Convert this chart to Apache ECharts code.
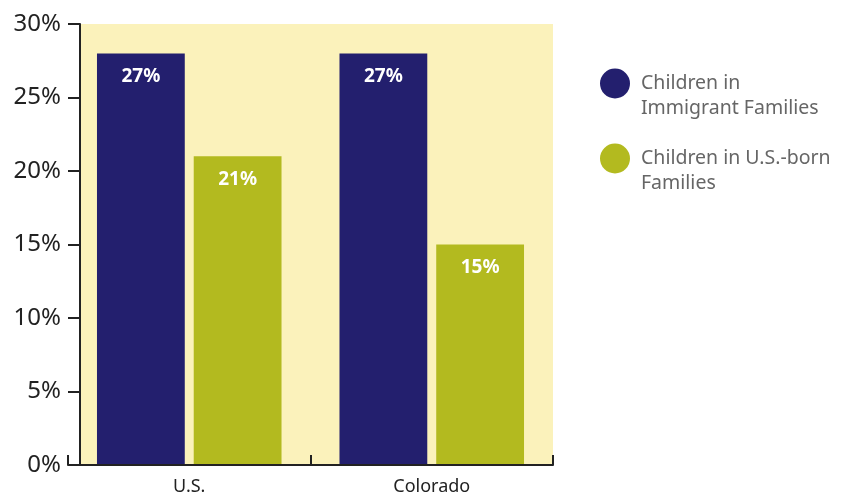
<!DOCTYPE html>
<html>
<head>
<meta charset="utf-8">
<script src="https://cdn.jsdelivr.net/npm/echarts@6/dist/echarts.min.js"></script>
<style>
html,body{margin:0;padding:0;background:#fff;}
#c{width:861px;height:496px;}
</style>
</head>
<body>
<div id="c"></div>
<script>
const categories = ["U.S.", "Colorado"];
const seriesNames = ["Children in\nImmigrant Families", "Children in U.S.-born\nFamilies"];
const immigrantValues = [28, 28];
const immigrantLabels = ["27%", "27%"];
const usBornValues = [21, 15];
const usBornLabels = ["21%", "15%"];
const yTicks = [0, 5, 10, 15, 20, 25, 30];

const FONT = "'Noto Sans', sans-serif";
const chart = echarts.init(document.getElementById('c'), null, {renderer: 'canvas'});

const labelStyle = (labels) => ({
  show: true,
  position: 'insideTop',
  distance: 14,
  color: '#ffffff',
  fontSize: 19,
  fontWeight: 'bold',
  fontFamily: FONT,
  formatter: (p) => labels[p.dataIndex]
});

chart.setOption({
  animation: false,
  grid: {
    left: 68, right: 308, top: 24, bottom: 30,
    show: true, backgroundColor: '#FBF2BB', borderWidth: 0
  },
  graphic: [{
    type: 'rect',
    left: 67, top: 20,
    shape: {width: 12, height: 446},
    style: {fill: '#ffffff'},
    z: 1
  }],
  legend: {
    orient: 'vertical',
    left: 600, top: 46,
    padding: 0,
    itemWidth: 30, itemHeight: 30,
    itemGap: 0,
    icon: 'circle',
    data: seriesNames,
    formatter: (name) => '\n' + name,
    textStyle: {
      fontSize: 19.5, color: '#666666', fontFamily: FONT,
      lineHeight: 25, padding: [0, 0, 0, 6]
    }
  },
  xAxis: {
    type: 'category',
    data: categories,
    z: 5,
    axisLine: {lineStyle: {color: '#222222', width: 2}},
    axisTick: {show: true, inside: true, length: 10, lineStyle: {color: '#222222', width: 2}},
    axisLabel: {fontSize: 18, color: '#222222', fontFamily: FONT, margin: 13}
  },
  yAxis: {
    type: 'value',
    min: yTicks[0], max: yTicks[yTicks.length - 1], interval: 5,
    offset: -12,
    z: 5,
    splitLine: {show: false},
    axisLine: {show: true, lineStyle: {color: '#222222', width: 2}},
    axisTick: {show: true, length: 12, lineStyle: {color: '#222222', width: 2}},
    axisLabel: {fontSize: 24, color: '#222222', fontFamily: FONT, margin: 19, formatter: '{value}%'}
  },
  series: [
    {
      name: seriesNames[0], type: 'bar', data: immigrantValues,
      barGap: '10.2%', barCategoryGap: '23.9%',
      itemStyle: {color: '#231F6E'},
      label: labelStyle(immigrantLabels)
    },
    {
      name: seriesNames[1], type: 'bar', data: usBornValues,
      itemStyle: {color: '#B3BA1F'},
      label: labelStyle(usBornLabels)
    }
  ]
});
</script>
</body>
</html>
